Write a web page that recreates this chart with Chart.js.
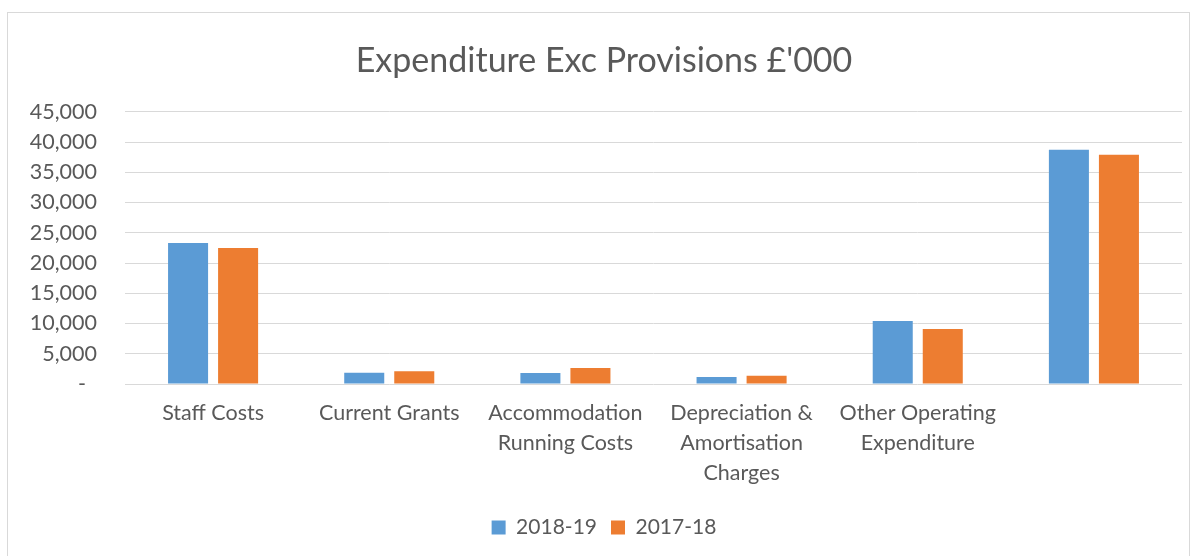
<!DOCTYPE html>
<html>
<head>
<meta charset="utf-8">
<script src="https://cdn.jsdelivr.net/npm/chart.js@4/dist/chart.umd.min.js"></script>
<style>
  html, body { margin: 0; padding: 0; background: #ffffff; overflow: hidden; }
  #frame { position: absolute; left: 7px; top: 12px; width: 1183px; height: 600px; border: 1px solid #d9d9d9; box-sizing: border-box; }
  #c { position: absolute; left: 0; top: 0; }
</style>
</head>
<body>
<div id="frame"></div>
<canvas id="c" width="1197" height="556"></canvas>
<script>
const categories = [
  ['Staff Costs'],
  ['Current Grants'],
  ['Accommodation', 'Running Costs'],
  ['Depreciation &', 'Amortisation', 'Charges'],
  ['Other Operating', 'Expenditure'],
  ''
];
const series2018_19 = [23300, 1850, 1800, 1140, 10400, 38730];
const series2017_18 = [22480, 2120, 2660, 1360, 9080, 37900];
const seriesNames = ['2018-19', '2017-18'];
const titleText = "Expenditure Exc Provisions £'000";
const yMin = 0, yMax = 45000, yStep = 5000;

const textColor = '#595959';
const FONT = 'Lato, "Open Sans", sans-serif';
const PAD_LEFT = 26;

new Chart(document.getElementById('c'), {
  type: 'bar',
  data: {
    labels: categories,
    datasets: [
      { label: seriesNames[0], data: series2018_19, backgroundColor: '#5B9BD5', borderWidth: 0,
        categoryPercentage: 0.568, barPercentage: 0.8 },
      { label: seriesNames[1], data: series2017_18, backgroundColor: '#ED7D31', borderWidth: 0,
        categoryPercentage: 0.568, barPercentage: 0.8 }
    ]
  },
  options: {
    responsive: false,
    animation: false,
    layout: { padding: { left: PAD_LEFT, right: 15, top: 0, bottom: 8 } },
    plugins: {
      title: {
        display: true,
        text: titleText,
        color: textColor,
        font: { family: FONT, size: 34, weight: 'normal' },
        padding: { top: 41, bottom: 30 }
      },
      legend: {
        position: 'bottom',
        labels: {
          color: textColor,
          font: { family: FONT, size: 21 },
          boxWidth: 14,
          boxHeight: 14,
          padding: 14
        }
      },
      tooltip: { enabled: false }
    },
    scales: {
      x: {
        grid: { display: false },
        border: { display: false },
        ticks: {
          color: textColor,
          font: { family: FONT, size: 21.5, lineHeight: 1.4 },
          maxRotation: 0,
          autoSkip: false,
          padding: 6
        },
        afterFit: (s) => { s.height = 119; }
      },
      y: {
        min: yMin,
        max: yMax,
        grid: { color: '#d9d9d9', lineWidth: 1, drawTicks: false },
        border: { display: false },
        ticks: {
          stepSize: yStep,
          color: textColor,
          font: { family: FONT, size: 21.5 },
          padding: 28,
          callback: (v) => v === 0 ? '-  ' : v.toLocaleString('en-GB')
        },
        afterFit: (s) => { s.width = 125 - PAD_LEFT; }
      }
    }
  }
});
</script>
</body>
</html>
